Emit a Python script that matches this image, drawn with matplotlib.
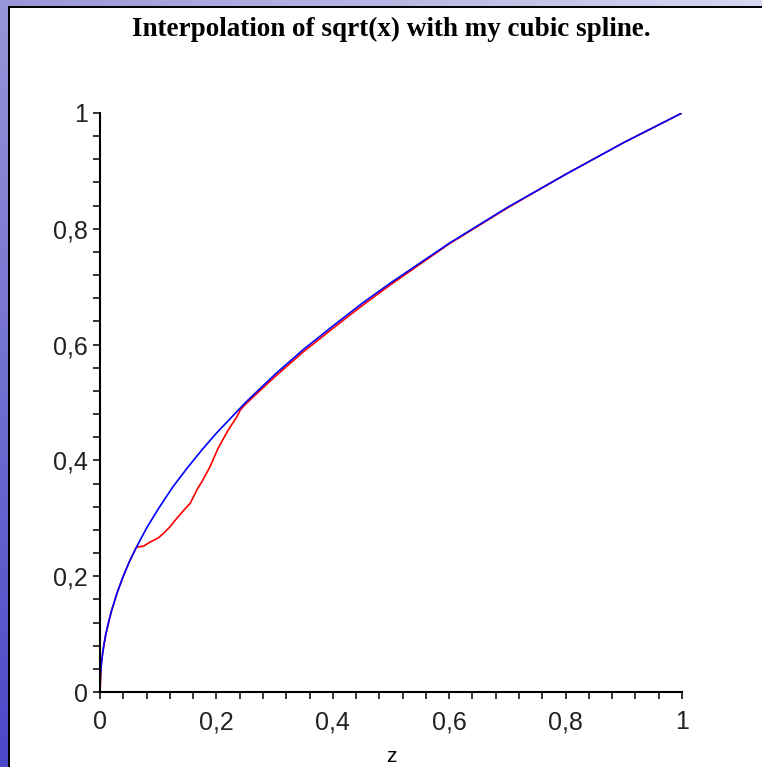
import numpy as np
import matplotlib
matplotlib.use("Agg")
import matplotlib.pyplot as plt
from matplotlib.ticker import MultipleLocator, FuncFormatter

# blue: sqrt(x)
blue_x = [0, 0.0005, 0.001, 0.002, 0.004, 0.006, 0.008, 0.01, 0.015, 0.02, 0.03, 0.04,
          0.05, 0.0625, 0.08, 0.1, 0.125, 0.15, 0.175, 0.2, 0.25, 0.3, 0.35, 0.4, 0.45,
          0.5, 0.6, 0.7, 0.8, 0.9, 1.0]
blue_y = [0, 0.022, 0.032, 0.045, 0.063, 0.077, 0.089, 0.1, 0.122, 0.141, 0.173, 0.2,
          0.224, 0.25, 0.283, 0.316, 0.354, 0.387, 0.418, 0.447, 0.5, 0.548, 0.592, 0.632,
          0.671, 0.707, 0.775, 0.837, 0.894, 0.949, 1.0]

# red: the cubic spline
red_x = [0, 0.002, 0.005, 0.01, 0.02, 0.03, 0.04, 0.05, 0.0625, 0.075, 0.086, 0.1,
         0.109, 0.12, 0.132, 0.145, 0.155, 0.168, 0.175, 0.189, 0.203, 0.22, 0.235,
         0.241, 0.249, 0.27, 0.3, 0.35, 0.4, 0.45, 0.5, 0.6, 0.7, 0.8, 0.9, 1.0]
red_y = [0, 0.045, 0.07, 0.1, 0.141, 0.173, 0.2, 0.224, 0.25, 0.252, 0.259, 0.266,
         0.274, 0.285, 0.300, 0.315, 0.326, 0.352, 0.363, 0.389, 0.421, 0.452, 0.475,
         0.487, 0.496, 0.516, 0.544, 0.588, 0.628, 0.667, 0.704, 0.774, 0.836, 0.894,
         0.949, 1.0]

title = "Interpolation of sqrt(x) with my cubic spline."
x_label = "z"

W, H = 762, 767
fig = plt.figure(figsize=(W / 100, H / 100), dpi=100)

# slide frame (gradient bars on top and left)
bg = fig.add_axes([0, 0, 1, 1], zorder=-10)
bg.axis("off")
c_tl = np.array([0x98, 0x96, 0xd8]) / 255
c_tr = np.array([0xd6, 0xd6, 0xf0]) / 255
c_bl = np.array([0x4a, 0x48, 0xc8]) / 255
t = np.linspace(0, 1, 200)
top_grad = (c_tl[None, :] * (1 - t[:, None]) + c_tr[None, :] * t[:, None])[None, :, :]
left_grad = (c_tl[None, :] * (1 - t[:, None]) + c_bl[None, :] * t[:, None])[:, None, :]
bg.imshow(top_grad, extent=(0, W, 6, 0), aspect="auto")
bg.imshow(left_grad, extent=(0, 8, H, 0), aspect="auto")
bg.fill_between([8, W], 6, 8, color="black", lw=0)
bg.fill_between([8, 10], 6, H, color="black", lw=0)
bg.set_xlim(0, W)
bg.set_ylim(H, 0)

ax = fig.add_axes([100 / W, 75 / H, 582 / W, 579 / H])
ax.patch.set_alpha(0)
ax.plot(red_x, red_y, color="#ff0000", lw=1.2)
ax.plot(blue_x, blue_y, color="#0000ff", lw=1.2)
ax.set_xlim(0, 1)
ax.set_ylim(0, 1)

for s in ["top", "right"]:
    ax.spines[s].set_visible(False)
for s in ["left", "bottom"]:
    ax.spines[s].set_linewidth(1.5)

ax.xaxis.set_major_locator(MultipleLocator(0.2))
ax.yaxis.set_major_locator(MultipleLocator(0.2))
ax.xaxis.set_minor_locator(MultipleLocator(0.04))
ax.yaxis.set_minor_locator(MultipleLocator(0.04))
fmt = FuncFormatter(lambda v, p: ("%g" % round(v, 2)).replace(".", ","))
ax.xaxis.set_major_formatter(fmt)
ax.yaxis.set_major_formatter(fmt)
ax.tick_params(which="both", direction="out", length=5, width=1.1, color="black")
ax.tick_params(axis="x", which="major", pad=8, labelsize=18)
ax.tick_params(axis="y", which="major", pad=3.5, labelsize=18)
for lab in ax.get_xticklabels() + ax.get_yticklabels():
    lab.set_family("Liberation Sans")
    lab.set_color("#222222")

fig.text(391 / W, 1 - 29 / H, title, ha="center", va="center",
         fontsize=19.5, fontweight="bold", family="Liberation Serif")
fig.text(391 / W, 1 - 747 / H, x_label, ha="center", va="top",
         fontsize=15, family="Liberation Sans")

fig.savefig("out.png", dpi=100)
